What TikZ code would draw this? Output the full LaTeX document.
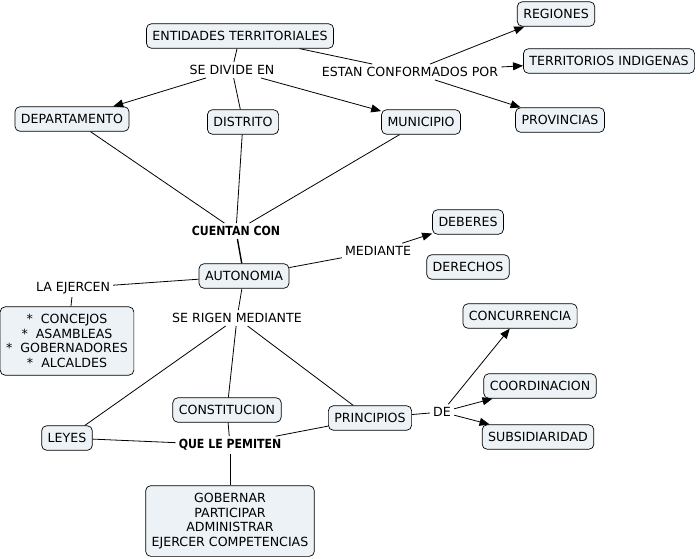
\documentclass[tikz,border=0pt]{standalone}
\usepackage{fontspec}
\setmainfont{DejaVu Sans}
\newfontfamily\bcond[FakeStretch=0.87]{DejaVu Sans}
\usetikzlibrary{arrows.meta}
\definecolor{boxfill}{RGB}{236,242,245}
\begin{document}
\begin{tikzpicture}[x=1pt,y=-1pt,
 box/.style={draw, rounded corners=5pt, fill=boxfill, font=\fontsize{12.6}{14.6}\selectfont, inner xsep=6pt, inner ysep=7.5pt, align=center, line width=0.7pt},
 lbl/.style={font=\fontsize{12.6}{14.6}\selectfont, inner sep=3pt},
 blbl/.style={inner sep=3pt, font=\bcond\fontsize{12.6}{14.6}\selectfont\bfseries},
 link/.style={line width=0.8pt},
 arr/.style={link, -{Triangle[length=10pt,width=8pt]}},
]
\useasboundingbox (0,0) rectangle (700,558);
% nodes
\node[box] (ent) at (240,36) {ENTIDADES TERRITORIALES};
\node[box] (reg) at (556,14) {REGIONES};
\node[box] (ter) at (609,61) {TERRITORIOS INDIGENAS};
\node[box] (pro) at (560,120) {PROVINCIAS};
\node[lbl] (est) at (410,72) {ESTAN CONFORMADOS POR};
\node[lbl] (div) at (232,70) {SE DIVIDE EN};
\node[box] (dep) at (72,119) {DEPARTAMENTO};
\node[box] (dis) at (243,122) {DISTRITO};
\node[box] (mun) at (421,122) {MUNICIPIO};
\node[blbl] (cue) at (236,231) {CUENTAN CON};
\node[box] (aut) at (244,276) {AUTONOMIA};
\node[lbl] (med) at (378,251) {MEDIANTE};
\node[box] (deb) at (468,222) {DEBERES};
\node[box] (der) at (468,267) {DERECHOS};
\node[lbl] (eje) at (73,288) {LA EJERCEN};
\node[box] (con) at (67,341) {*\ \ CONCEJOS\\*\ \ ASAMBLEAS\\*\ \ GOBERNADORES\\*\ \ ALCALDES};
\node[lbl] (rig) at (237,318) {SE RIGEN MEDIANTE};
\node[box] (cnc) at (520,316) {CONCURRENCIA};
\node[box] (coo) at (540,386) {COORDINACION};
\node[box] (sub) at (538,437) {SUBSIDIARIDAD};
\node[box] (pri) at (370,418) {PRINCIPIOS};
\node[lbl] (de) at (442,412) {DE};
\node[box] (cst) at (227,410) {CONSTITUCION};
\node[box] (ley) at (67,438) {LEYES};
\node[blbl] (que) at (230,445) {QUE LE PEMITEN};
\node[box] (gob) at (230,521) {GOBERNAR\\PARTICIPAR\\ADMINISTRAR\\EJERCER COMPETENCIAS};
% connectors
\draw[link] (ent) -- (div);
\draw[arr] (div) -- (dep);
\draw[link] (div) -- (dis);
\draw[arr] (div) -- (mun);
\draw[link] (ent) -- (est);
\draw[arr] (est) -- (reg);
\draw[arr] (est) -- (ter);
\draw[arr] (est) -- (pro);
\draw[link] (dep) -- (cue);
\draw[link] (dis) -- (cue);
\draw[link] (mun) -- (cue);
\draw[line width=1.4pt] (cue) -- (aut);
\draw[link] (aut) -- (med);
\draw[arr] (med) -- (deb);
\draw[link] (aut) -- (eje);
\draw[link] (eje) -- (con);
\draw[link] (aut) -- (rig);
\draw[link] (rig) -- (ley);
\draw[link] (rig) -- (cst);
\draw[link] (rig) -- (pri);
\draw[link] (ley) -- (que);
\draw[link] (cst) -- (que);
\draw[link] (pri) -- (que);
\draw[link] (que) -- (gob);
\draw[link] (pri) -- (de);
\draw[arr] (de) -- (cnc);
\draw[arr] (de) -- (coo);
\draw[arr] (de) -- (sub);
\end{tikzpicture}
\end{document}
